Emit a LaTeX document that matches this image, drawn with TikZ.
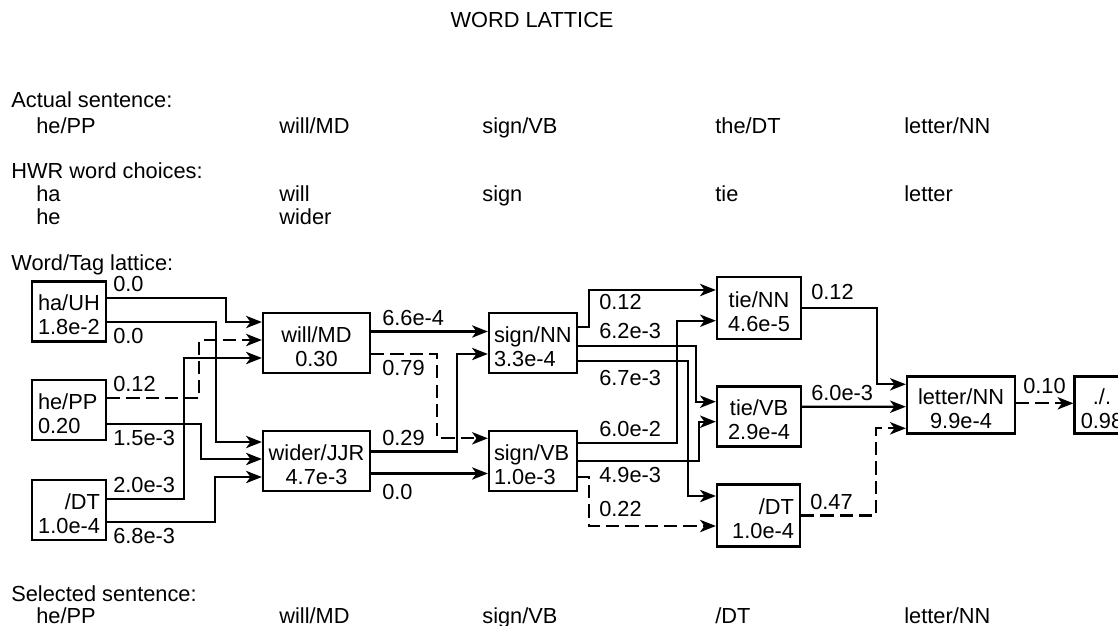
\documentclass[tikz,border=0pt]{standalone}
\usepackage{fontspec}
\setmainfont{Liberation Sans}
\usetikzlibrary{arrows.meta}

\tikzset{
  lat/.style={draw, line width=1.3pt, inner xsep=0.12cm, inner ysep=0pt,
    minimum height=1.2cm, execute at begin node=\rule{0pt}{13pt}},
  wire/.style={line width=1.3pt, -{Stealth[length=9pt,width=7pt,inset=2.5pt]}},
  pick/.style={wire, dash pattern=on 7.5pt off 3.5pt},
  lbl/.style={inner sep=0.1cm},
  txt/.style={anchor=base west, inner sep=0pt},
}

\begin{document}
\begin{tikzpicture}[x=0.02cm, y=-0.02cm, font=\fontsize{12.4}{13.6}\selectfont]
  \useasboundingbox (0,0) rectangle (1118,625);
  \clip (0,0) rectangle (1118,625);

  % header lines
  \node[anchor=base, inner sep=0pt] (title) at (532,28) {WORD LATTICE};
  \node[txt] (actHd) at (11,108) {Actual sentence:};
  \node[txt] (act1) at (36,133) {he/PP};
  \node[txt] (act2) at (279,133) {will/MD};
  \node[txt] (act3) at (482,133) {sign/VB};
  \node[txt] (act4) at (715,133) {the/DT};
  \node[txt] (act5) at (904,133) {letter/NN};
  \node[txt] (hwrHd) at (11,178) {HWR word choices:};
  \node[txt] (hwr1) at (36,201) {ha};
  \node[txt] (hwr2) at (279,201) {will};
  \node[txt] (hwr3) at (482,201) {sign};
  \node[txt] (hwr4) at (715,201) {tie};
  \node[txt] (hwr5) at (904,201) {letter};
  \node[txt] (hwr6) at (36,224) {he};
  \node[txt] (hwr7) at (279,224) {wider};
  \node[txt] (latHd) at (11,270) {Word/Tag lattice:};

  % lattice boxes
  \node[lat, text width=1.24cm, align=left] (haUH) at (69,311.5) {ha/UH\\1.8e-2};
  \node[lat, text width=1.24cm, align=left] (hePP) at (69,410) {he/PP\\0.20};
  \node[lat, text width=1.24cm, align=right] (DTa) at (69,510) {/DT\\1.0e-4};
  \node[lat, inner xsep=0.1cm, text width=1.94cm, align=center] (willMD) at (316.5,343) {will/MD\\0.30};
  \node[lat, inner xsep=0.1cm, text width=1.94cm, align=center] (widerJJR) at (316.5,461) {wider/JJR\\4.7e-3};
  \node[lat, inner xsep=0.1cm, text width=1.56cm, align=left] (signNN) at (533,343) {sign/NN\\3.3e-4};
  \node[lat, inner xsep=0.1cm, text width=1.56cm, align=left] (signVB) at (533,461) {sign/VB\\1.0e-3};
  \node[lat, minimum height=1.24cm, text width=1.44cm, align=center] (tieNN) at (759,308) {tie/NN\\4.6e-5};
  \node[lat, text width=1.44cm, align=center] (tieVB) at (759,416.5) {tie/VB\\2.9e-4};
  \node[lat, minimum height=1.24cm, text width=1.42cm, align=right] (DTb) at (758.5,515.5) {/DT\\1.0e-4};
  \node[lat, minimum height=1.14cm, text width=1.92cm, align=center] (letterNN) at (961,405) {letter/NN\\9.9e-4};
  \node[lat, minimum height=1.14cm, text width=0.86cm, align=center] (period) at (1102,405) {./.\\0.98};

  % first column to second
  \draw[wire] ([yshift=0.27cm]haUH.east) node[lbl, above right] (w1) {0.0} -- ++(119,0) |- ([yshift=0.42cm]willMD.west);
  \draw[wire] ([yshift=-0.21cm]haUH.east) node[lbl, below right] (w2) {0.0} -- ++(109,0) |- ([yshift=0.38cm]widerJJR.west);
  \draw[pick] ([yshift=0.24cm]hePP.east) node[lbl, above right] (w3) {0.12} -- ++(92,0) |- ([yshift=0.06cm]willMD.west);
  \draw[wire] ([yshift=-0.28cm]hePP.east) node[lbl, below right] (w4) {1.5e-3} -- ++(94,0) |- ([yshift=0.04cm]widerJJR.west);
  \draw[wire] ([yshift=0.22cm]DTa.east) node[lbl, above right] (w5) {2.0e-3} -- ++(77,0) |- ([yshift=-0.30cm]willMD.west);
  \draw[wire] ([yshift=-0.24cm]DTa.east) node[lbl, below right] (w6) {6.8e-3} -- ++(108,0) |- ([yshift=-0.32cm]widerJJR.west);

  % second column to third
  \draw[wire] ([yshift=0.23cm]willMD.east) node[lbl, above right, xshift=0.1cm] (w7) {6.6e-4} -- ([yshift=0.23cm]signNN.west);
  \draw[pick] ([yshift=-0.22cm]willMD.east) node[lbl, below right, xshift=0.1cm] (w8) {0.79} -- ++(66,0) |- ([yshift=0.454cm]signVB.west);
  \draw[wire] ([yshift=0.19cm]widerJJR.east) node[lbl, above right, xshift=0.1cm] (w9) {0.29} -- ++(86,0) |- ([yshift=-0.22cm]signNN.west);
  \draw[wire] ([yshift=-0.25cm]widerJJR.east) node[lbl, below right, xshift=0.1cm, yshift=-0.1cm] (w10) {0.0} -- ([yshift=-0.25cm]signVB.west);

  % third column to fourth
  \draw[wire] ([yshift=0.314cm]signNN.east) node[lbl, above right, xshift=0.3cm, yshift=0.22cm] (w11) {0.12} -- ++(11,0) |- ([yshift=0.36cm]tieNN.west);
  \draw[wire] ([yshift=-0.06cm]signNN.east) node[lbl, above right, xshift=0.3cm, yshift=0.03cm] (w12) {6.2e-3} -- ++(118,0) |- ([yshift=0.296cm]tieVB.west);
  \draw[wire] ([yshift=-0.354cm]signNN.east) node[lbl, below right, xshift=0.3cm, yshift=-0.06cm] (w13) {6.7e-3} -- ++(110,0) |- ([yshift=0.39cm]DTb.west);
  \draw[wire] ([yshift=0.354cm]signVB.east) node[lbl, above right, xshift=0.3cm] (w14) {6.0e-2} -- ++(99,0) |- ([yshift=-0.254cm]tieNN.west);
  \draw[wire] (signVB.east) node[lbl, below right, xshift=0.3cm] (w15) {4.9e-3} -- ++(121,0) |- ([yshift=-0.104cm]tieVB.west);
  \draw[pick] ([yshift=-0.314cm]signVB.east) node[lbl, below right, xshift=0.3cm, yshift=-0.36cm] (w16) {0.22} -- ++(11,0) |- ([yshift=-0.21cm]DTb.west);

  % fourth column to letter/NN and on
  \draw[wire] (tieNN.east) node[lbl, above right, xshift=0.06cm, yshift=0.04cm] (w17) {0.12} -- ++(75,0) |- ([yshift=0.414cm]letterNN.west);
  \draw[wire] ([yshift=0.196cm]tieVB.east) node[lbl, above right, xshift=0.06cm] (w18) {6.0e-3} -- ([yshift=-0.034cm]letterNN.west);
  \draw[pick] (DTb.east) node[lbl, above right, xshift=0.06cm] (w19) {0.47} -- ++(75,0) |- ([yshift=-0.466cm]letterNN.west);
  \draw[pick] ([yshift=0.034cm]letterNN.east) node[lbl, above right, xshift=0.02cm, yshift=0.07cm] (w20) {0.10} -- ([yshift=0.034cm]period.west);

  % chosen path
  \node[txt] (selHd) at (11,601) {Selected sentence:};
  \node[txt] (sel1) at (36,623) {he/PP};
  \node[txt] (sel2) at (279,623) {will/MD};
  \node[txt] (sel3) at (482,623) {sign/VB};
  \node[txt] (sel4) at (715,623) {/DT};
  \node[txt] (sel5) at (904,623) {letter/NN};
\end{tikzpicture}
\end{document}
